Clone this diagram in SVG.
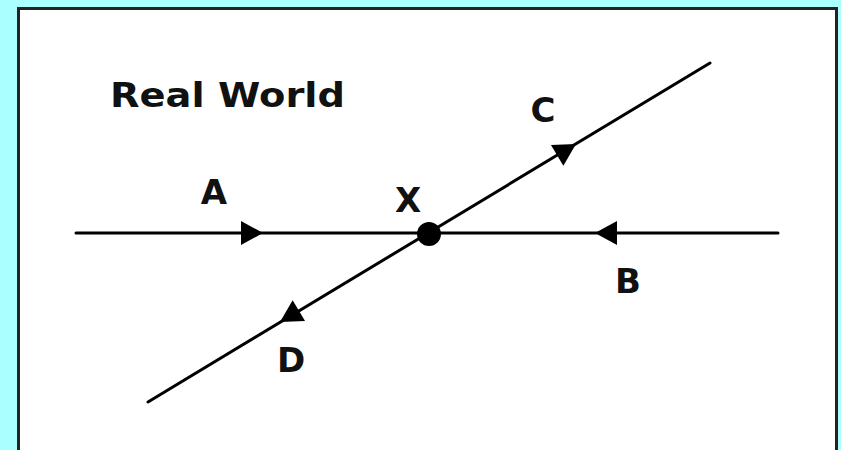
<svg xmlns="http://www.w3.org/2000/svg" width="841" height="450" viewBox="0 0 841 450">
<style>
.ln{stroke:#000;stroke-width:3;fill:none;stroke-linecap:round}
.lbl{font-family:"DejaVu Sans","Liberation Sans",sans-serif;font-weight:bold;fill:#111}
</style>
<defs>
<path id="tri" d="M0,0 L-22,-12 L-22,12 Z" fill="#000"/>
</defs>
<rect x="0" y="0" width="841" height="450" fill="#aaffff"/>
<rect x="18.5" y="8.5" width="818" height="460" fill="#fff" stroke="#222" stroke-width="3"/>
<g id="title"><text class="lbl" x="110" y="107" font-size="34" textLength="235" lengthAdjust="spacingAndGlyphs">Real World</text></g>
<g id="connectors">
<line class="ln" x1="76" y1="233" x2="778" y2="233"/>
<line class="ln" x1="148" y1="402" x2="710" y2="63"/>
<use href="#tri" transform="translate(263,233)"/>
<use href="#tri" transform="translate(595,233) rotate(180)"/>
<use href="#tri" transform="translate(576,144) rotate(-31.1)"/>
<use href="#tri" transform="translate(280,322) rotate(148.9)"/>
</g>
<g id="nodeX"><circle cx="429" cy="234" r="12" fill="#000"/><text class="lbl" x="408" y="212" font-size="34" text-anchor="middle">X</text></g>
<g id="nodeA"><text class="lbl" x="214" y="204" font-size="34" text-anchor="middle">A</text></g>
<g id="nodeB"><text class="lbl" x="628" y="293" font-size="34" text-anchor="middle">B</text></g>
<g id="nodeC"><text class="lbl" x="543" y="122" font-size="34" text-anchor="middle">C</text></g>
<g id="nodeD"><text class="lbl" x="291" y="372" font-size="34" text-anchor="middle">D</text></g>
</svg>
